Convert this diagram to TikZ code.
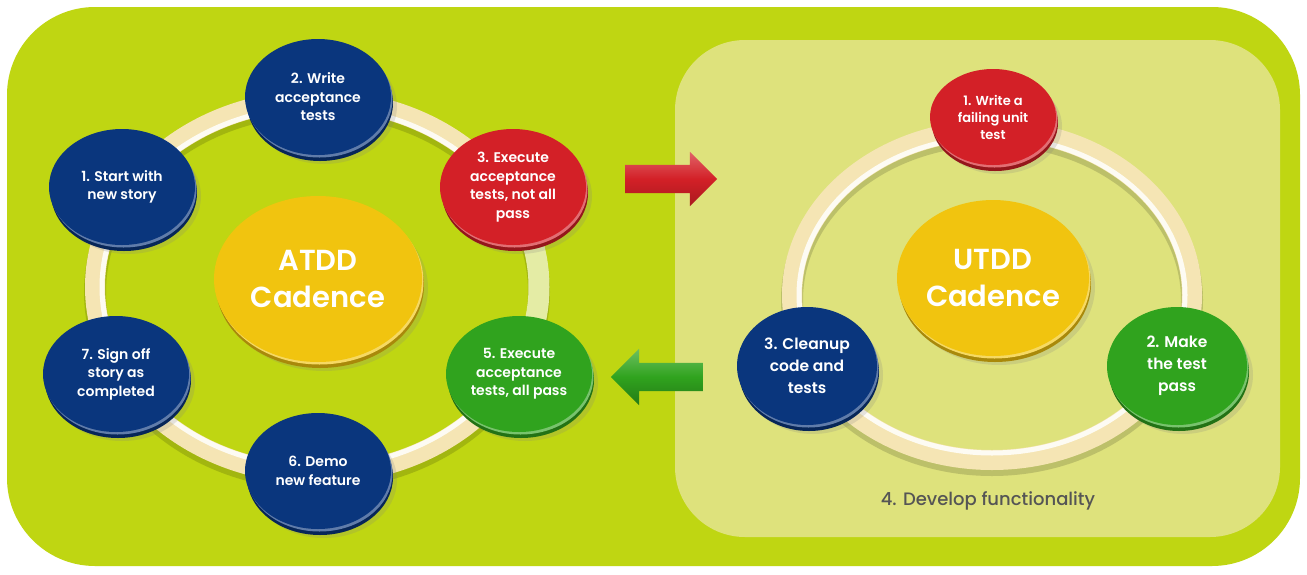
\documentclass[tikz,border=0pt]{standalone}
\usepackage{fontspec}
\setmainfont{Poppins}[BoldFont={Poppins SemiBold}]
\newfontfamily\medfont{Poppins Medium}
\usetikzlibrary{shapes.geometric,shapes.arrows,shadows}
\definecolor{leafbg}{RGB}{191,214,18}
\definecolor{panelbg}{RGB}{222,226,124}
\definecolor{navy}{RGB}{10,54,125}
\definecolor{alarm}{RGB}{211,32,39}
\definecolor{pass}{RGB}{48,163,30}
\definecolor{gold}{RGB}{241,196,15}
\definecolor{cream}{RGB}{245,229,180}
\definecolor{paleseg}{RGB}{228,236,165}
\definecolor{caption}{RGB}{85,85,85}

\begin{document}
\begin{tikzpicture}[x=1pt,y=-1pt,
    disc/.style={ellipse, inner sep=0pt, align=center, text=white, fill=#1,
      drop shadow={opacity=0.2, shadow xshift=6pt, shadow yshift=-9pt},
      general shadow={fill=#1!70!black, shadow xshift=2pt, shadow yshift=-6pt},
      general shadow={fill=#1!65!white, shadow xshift=1.5pt, shadow yshift=-2.5pt}},
    stepdisc/.style={disc=#1, minimum width=146pt, minimum height=116pt,
      font=\bfseries\fontsize{14}{18.5}\selectfont},
    hub/.style={disc=gold, font=\bfseries\fontsize{29}{37}\selectfont},
    ringshade/.style={line width=22pt, draw=black, opacity=0.15},
    ringbase/.style={line width=20pt, draw=cream},
    ringlight/.style={line width=5pt, draw=white, opacity=0.85},
    bigarrow/.style={single arrow, inner sep=0pt, text height=14pt, text depth=14pt,
      minimum height=92pt, shading=axis, shading angle=0}]
  \useasboundingbox (0,0) rectangle (1307,574);
  \fill[white] (0,0) rectangle (1307,574);
  \fill[leafbg, rounded corners=88pt] (7,7) rectangle (1300,566);
  \fill[panelbg, rounded corners=70pt] (675,40) rectangle (1280,537);

  % ATDD cycle
  \coordinate (ringA) at (317,287);
  \draw[ringshade] ([yshift=-5pt]ringA) ellipse [x radius=222, y radius=187];
  \draw[ringbase] (ringA) ellipse [x radius=222, y radius=187];
  \draw[ringlight] (ringA) ellipse [x radius=215, y radius=180];
  \draw[line width=21pt, draw=paleseg] ([shift={(-32:222 and 187)}]ringA)
    arc[start angle=-32, end angle=32, x radius=222, y radius=187];
  \node[hub, minimum width=208pt, minimum height=166pt] (atdd) at (318,279) {ATDD\\Cadence};
  \node[stepdisc=navy] (a1) at (122,187) {1. Start with\\new story};
  \node[stepdisc=navy] (a2) at (318,97) {2. Write\\acceptance\\tests};
  \node[stepdisc=alarm] (a3) at (513,187) {3. Execute\\acceptance\\tests, not all\\pass};
  \node[stepdisc=pass] (a5) at (519,374) {5. Execute\\acceptance\\tests, all pass};
  \node[stepdisc=navy] (a6) at (318,471) {6. Demo\\new feature};
  \node[stepdisc=navy] (a7) at (116,374) {7. Sign off\\story as\\completed};

  % hand-over arrows
  \node[bigarrow, single arrow head extend=13pt, top color=alarm!70!white,
    bottom color=alarm!80!black, middle color=alarm] (handoff) at (664,179) {};
  \node[bigarrow, single arrow head extend=14pt, shape border rotate=180,
    top color=pass!70!white, bottom color=pass!75!black, middle color=pass] (handback) at (664,377) {};

  % UTDD cycle
  \coordinate (ringU) at (992,295);
  \draw[ringshade] ([yshift=-5pt]ringU) ellipse [x radius=200, y radius=165];
  \draw[ringbase] (ringU) ellipse [x radius=200, y radius=165];
  \draw[ringlight] (ringU) ellipse [x radius=193, y radius=158];
  \node[hub, minimum width=192pt, minimum height=156pt] (utdd) at (993,278) {UTDD\\Cadence};
  \node[disc=alarm, minimum width=126pt, minimum height=96pt,
    font=\bfseries\fontsize{13}{17}\selectfont] (u1) at (993,117) {1. Write a\\failing unit\\test};
  \node[disc=pass, minimum width=140pt, minimum height=118pt,
    font=\bfseries\fontsize{15.5}{22}\selectfont] (u2) at (1177,366) {2. Make\\the test\\pass};
  \node[disc=navy, minimum width=140pt, minimum height=118pt,
    font=\bfseries\fontsize{15.5}{22}\selectfont] (u3) at (807,366) {3. Cleanup\\code and\\tests};
  \node[anchor=base, text=caption, font=\medfont\fontsize{18}{22}\selectfont] (develop) at (988,505)
    {4. Develop functionality};
\end{tikzpicture}
\end{document}
